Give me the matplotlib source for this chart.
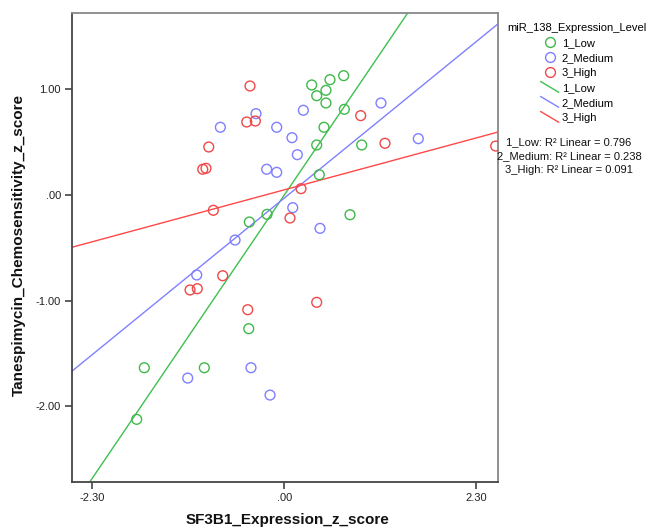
import matplotlib
matplotlib.use("Agg")
import matplotlib.pyplot as plt
import numpy as np
from matplotlib.lines import Line2D
from matplotlib.legend_handler import HandlerBase

plt.rcParams['font.family'] = ['Liberation Sans', 'DejaVu Sans']

# ---------------- data ----------------
groups = ["1_Low", "2_Medium", "3_High"]

low_x = [0.328, 0.547, 0.711, 0.499, 0.388, 0.499, 0.719, 0.475, 0.388, 0.927,
         0.419, 0.787, -0.419, -0.207, -0.426, -1.677, -0.958, -1.768]
low_y = [1.043, 1.093, 1.131, 0.992, 0.941, 0.872, 0.812, 0.642, 0.474, 0.474,
         0.192, -0.187, -0.256, -0.183, -1.267, -1.637, -1.637, -2.126]

med_x = [-0.339, -0.766, -0.091, -0.211, -0.091, -0.590, 0.228, 1.158, 0.092,
         1.605, 0.156, 0.101, 0.428, -1.049, -1.157, -0.399, -0.171]
med_y = [0.771, 0.642, 0.642, 0.244, 0.215, -0.427, 0.803, 0.872, 0.543,
         0.534, 0.382, -0.120, -0.316, -0.758, -1.735, -1.637, -1.896]

high_x = [-0.411, -0.450, -0.347, -0.905, -0.977, -0.938, -0.850, 0.915, 1.206,
          2.532, 0.200, 0.068, -0.738, -1.129, -1.042, -0.438, 0.388]
high_y = [1.033, 0.692, 0.701, 0.455, 0.244, 0.253, -0.145, 0.752, 0.490,
          0.464, 0.060, -0.218, -0.765, -0.900, -0.888, -1.087, -1.017]

# fit lines (slope, intercept)
fit_slope = [1.167, 0.645, 0.214]
fit_intercept = [0.000, -0.029, 0.049]
r2_values = [0.796, 0.238, 0.091]

x_ticks = [-2.30, 0.00, 2.30]
x_tick_labels = ["-2.30", ".00", "2.30"]
y_ticks = [1.0, 0.0, -1.0, -2.0]
y_tick_labels = ["1.00", ".00", "-1.00", "-2.00"]

x_label = "SF3B1_Expression_z_score"
y_label = "Tanespimycin_Chemosensitivity_z_score"
legend_title = "miR_138_Expression_Level"

# ---------------- style ----------------
marker_colors = ["#3fb94a", "#7f7fff", "#f04848"]
line_colors = ["#3fbf4f", "#8080ff", "#ff4848"]

W, H = 647, 529
fig = plt.figure(figsize=(W / 100, H / 100), dpi=100)
ax = fig.add_axes([72 / W, 1 - 481.7 / H, (497.7 - 72) / W, (481.7 - 13.3) / H])

xlim = (-2.543, 2.556)
ylim = (-2.717, 1.722)
ax.set_xlim(*xlim)
ax.set_ylim(*ylim)

xs = [low_x, med_x, high_x]
ys = [low_y, med_y, high_y]
for gx, gy, c in zip(xs, ys, marker_colors):
    ax.scatter(gx, gy, s=50, facecolors='none', edgecolors=c, linewidths=1.0, zorder=3)

xx = np.array(xlim)
for m, b, c in zip(fit_slope, fit_intercept, line_colors):
    ax.plot(xx, m * xx + b, color=c, lw=1.0, zorder=2)

ax.set_xticks(x_ticks)
ax.set_xticklabels(x_tick_labels)
ax.set_yticks(y_ticks)
ax.set_yticklabels(y_tick_labels)
ax.tick_params(direction='out', length=5, width=1.2, color='#444444',
               labelsize=8, labelcolor='#222222', pad=3)
for s in ['left', 'bottom']:
    ax.spines[s].set_color('#444444')
    ax.spines[s].set_linewidth(1.3)
for s in ['top', 'right']:
    ax.spines[s].set_color('#888888')
    ax.spines[s].set_linewidth(1.3)

fig.text(287 / W, 1 - 520 / H, x_label, ha='center', va='center',
         fontsize=11, fontweight='bold', color='#111111')
fig.text(19 / W, 1 - 245 / H, y_label, ha='center', va='center', rotation=90,
         fontsize=11, fontweight='bold', color='#111111')


class SlantHandler(HandlerBase):
    def create_artists(self, legend, orig_handle, xdescent, ydescent, width,
                       height, fontsize, trans):
        l = Line2D([0 - xdescent, width - xdescent],
                   [height - ydescent + 1, -ydescent - 1],
                   color=orig_handle.get_color(), lw=1.0)
        l.set_transform(trans)
        return [l]


handles = []
for c, g in zip(marker_colors, groups):
    handles.append(Line2D([], [], ls='none', marker='o', markersize=7.1,
                          markerfacecolor='none', markeredgecolor=c,
                          markeredgewidth=1.0, label=g))
line_handles = []
for c, g in zip(line_colors, groups):
    line_handles.append(Line2D([], [], color=c, lw=1.0, label=g))

hmap = {h: SlantHandler() for h in line_handles}
leg = fig.legend(handles=handles + line_handles, title=legend_title,
                 loc='upper left', bbox_to_anchor=(500 / W, 1 - 15 / H),
                 frameon=False, fontsize=8, title_fontsize=8,
                 handlelength=1.6, handletextpad=0.3, labelspacing=0.45,
                 borderpad=0.2, alignment='center', handler_map=hmap)

for i, (g, r2) in enumerate(zip(groups, r2_values)):
    fig.text(569 / W, 1 - (142 + 14.2 * i) / H,
             f"{g}: R\u00b2 Linear = {r2:.3f}", ha='center', va='center',
             fontsize=8, color='#111111', zorder=5)

fig.savefig("out.png", dpi=100)
